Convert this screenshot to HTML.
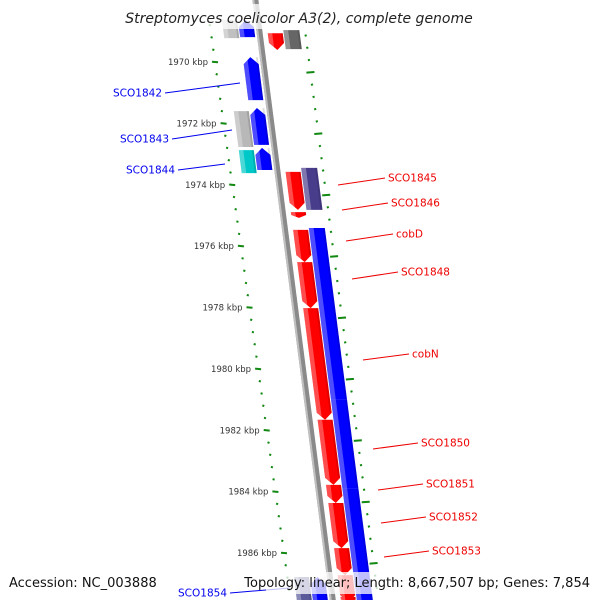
<!DOCTYPE html>
<html><head><meta charset="utf-8">
<style>
html,body{margin:0;padding:0;background:#fff;}
svg{display:block;font-family:"DejaVu Sans","Liberation Sans",sans-serif;}
</style></head>
<body>
<svg id="chart" width="600" height="600" viewBox="0 0 600 600">
<g id="ticks"></g>
<g id="axis"></g>
<g id="genes"></g>
<g id="labels"></g>
<g id="overlay">
<rect x="128" y="4" width="344" height="25" fill="#fff" opacity="0.75"/>
<text x="299" y="23" text-anchor="middle" font-size="14" font-style="italic" fill="#222">Streptomyces coelicolor A3(2), complete genome</text>
<rect x="5" y="572" width="150" height="22" fill="#fff" opacity="0.75"/>
<text x="9" y="587" font-size="13" fill="#111">Accession: NC_003888</text>
<rect x="266" y="572" width="330" height="22" fill="#fff" opacity="0.75"/>
<text x="590" y="587" text-anchor="end" font-size="13" fill="#111">Topology: linear; Length: 8,667,507 bp; Genes: 7,854</text>
</g>
</svg>
<script>
// data (kbp)
const geneStart = [1968.63,1968.63,1969.84,1971.60,1971.50,1972.87,1972.80,1969.06,1968.96,1973.58,1973.45,1974.89,1975.47,1976.52,1978.02,1981.66,1983.78,1984.37,1985.84,1986.72,1975.41,1981.00,1983.90,1986.78,1986.78,1987.43];
const geneEnd   = [1969.22,1969.19,1971.24,1972.77,1972.70,1973.62,1973.52,1969.61,1969.58,1974.82,1974.82,1975.08,1976.52,1978.02,1981.66,1983.78,1984.37,1985.84,1986.72,1987.60,1981.00,1983.90,1987.60,1987.60,1987.60,1987.60];
const geneTrack = ["LO","LI","LI","LO","LI","LO","LI","RI","RO","RI","RO","RI","RI","RI","RI","RI","RI","RI","RI","RI","RO","RO","RO","LO","LI","RI"];
const geneDir   = [0,-1,-1,0,-1,0,-1,1,0,1,0,1,1,1,1,1,1,1,1,1,0,0,0,0,-1,1];
const geneColor = ["#c0c0c0","#0000ff","#0000ff","#b8b8b8","#0000ff","#00c8c8","#0000ff","#ff0000","#666666","#ff0000","#483d8b","#ff0000","#ff0000","#ff0000","#ff0000","#ff0000","#ff0000","#ff0000","#ff0000","#ff0000","#0000ff","#0000ff","#0000ff","#5a5a9a","#0000ff","#ff0000"];
const tickLabels = ["1970 kbp","1972 kbp","1974 kbp","1976 kbp","1978 kbp","1980 kbp","1982 kbp","1984 kbp","1986 kbp"];
const tickKbp = [1970,1972,1974,1976,1978,1980,1982,1984,1986];
const labelNames = ["SCO1842","SCO1843","SCO1844","SCO1854","SCO1845","SCO1846","cobD","SCO1848","cobN","SCO1850","SCO1851","SCO1852","SCO1853"];
const labelSide = [-1,-1,-1,-1,1,1,1,1,1,1,1,1,1];
// label leader layout (pixels): gene-end x,y and text-end x,y
const leadX1=[240,232,225,290,338,342,346,352,363,373,378,381,384];
const leadY1=[83,130,164,588,185,210,241,279,360,449,490,523,557];
const leadX2=[165,172,178,230,385,388,393,398,409,418,423,426,429];
const leadY2=[93,139,170,593,178,203,234,272,354,443,484,517,551];

const NS="http://www.w3.org/2000/svg";
const yOf = k => 62 + (k-1970)*30.69;
const axX = y => 258 + 0.129*(y-20);
const trackU = {LO:[-36,-21],LI:[-20,-5],RI:[8,23],RO:[24,40]};
function mk(tag,attrs,parent){const e=document.createElementNS(NS,tag);for(const k in attrs)e.setAttribute(k,attrs[k]);parent.appendChild(e);return e;}
const P=(y,u)=>(axX(y)+u).toFixed(1)+","+y.toFixed(1);

// axis
const axG=document.getElementById('axis');
const a1=mk('polygon',{points:[P(0,-3),P(0,3),P(600,3),P(600,-3)].join(" "),fill:"#8a8a8a"},axG);


mk('polygon',{points:[P(0,-3),P(0,-1),P(600,-1),P(600,-3)].join(" "),fill:"#c0c0c0"},axG);

// ticks
const tG=document.getElementById('ticks');
const lX = y => 215 + 0.1405*(y-62);
const rX = y => 305 + 0.1286*(y-30);
for(let k=1968.8;k<1988;k+=0.4){
  const y=yOf(k); if(y<25||y>598) continue;
  const kr=Math.round((k-1970)*10)/10;
  const major=Math.abs(kr/2-Math.round(kr/2))<0.01;
  const x=lX(y);
  const t=mk('line',{x1:(x-(major?3:1)).toFixed(1),y1:(y-0.3).toFixed(1),x2:(x+(major?3:1)).toFixed(1),y2:(y+0.3).toFixed(1),stroke:"#118811","stroke-width":2},tG);
  
  
  const yr=y+10.3; if(yr<25||yr>598) continue;
  const xr=rX(yr);
  const t2=mk('line',{x1:(xr-(major?4:1)).toFixed(1),y1:(yr+0.3).toFixed(1),x2:(xr+(major?4:1)).toFixed(1),y2:(yr-0.3).toFixed(1),stroke:"#118811","stroke-width":2},tG);
  
  
}
tickKbp.forEach((k,i)=>{
  const y=yOf(k);
  const t=mk('text',{x:(lX(y)-7).toFixed(1),y:(y+3).toFixed(1),"text-anchor":"end","font-size":"8.5",fill:"#333"},tG);
  t.textContent=tickLabels[i];
  
  
});

// genes
const gG=document.getElementById('genes');
geneStart.forEach((s,i)=>{
  const y1=yOf(s), y2=yOf(geneEnd[i]);
  const [u1,u2]=trackU[geneTrack[i]];
  const um=(u1+u2)/2, d=geneDir[i], ah=Math.min(7,(y2-y1)/2);
  let pts;
  if(d===1) pts=[P(y1,u1),P(y1,u2),P(y2-ah,u2),P(y2,um),P(y2-ah,u1)];
  else if(d===-1) pts=[P(y1+ah,u1),P(y1,um),P(y1+ah,u2),P(y2,u2),P(y2,u1)];
  else pts=[P(y1,u1),P(y1,u2),P(y2,u2),P(y2,u1)];
  const g=mk('polygon',{points:pts.join(" "),fill:geneColor[i]},gG);
  
  
  const w=(u2-u1)*0.3;
  let hp;
  if(d===1) hp=[P(y1,u1),P(y1,u1+w),P(y2-ah+(ah*w/(um-u1)),u1+w),P(y2-ah,u1)];
  else if(d===-1) hp=[P(y1+ah,u1),P(y1+ah-(ah*w/(um-u1)),u1+w),P(y2,u1+w),P(y2,u1)];
  else hp=[P(y1,u1),P(y1,u1+w),P(y2,u1+w),P(y2,u1)];
  mk('polygon',{points:hp.join(" "),fill:"#fff",opacity:0.3},gG);
  mk('polygon',{points:[P(y1,u2-2),P(y1,u2),P(y2-(d===1?ah:0),u2),P(y2-(d===1?ah:0),u2-2)].join(" "),fill:"#000",opacity:0.12},gG);
});

// labels
const lG=document.getElementById('labels');
labelNames.forEach((n,i)=>{
  const side=labelSide[i];
  const col=side<0?"#0000ee":"#ee0000";
  const ln=mk('line',{x1:leadX1[i],y1:leadY1[i],x2:leadX2[i],y2:leadY2[i],stroke:col,"stroke-width":1},lG);
  
  
  const tx = side<0 ? leadX2[i]-3 : leadX2[i]+3;
  const t=mk('text',{x:tx,y:leadY2[i]+3.5,"text-anchor":side<0?"end":"start","font-size":"10.5",fill:col},lG);
  t.textContent=n;
  
  
});
</script>
</body></html>
